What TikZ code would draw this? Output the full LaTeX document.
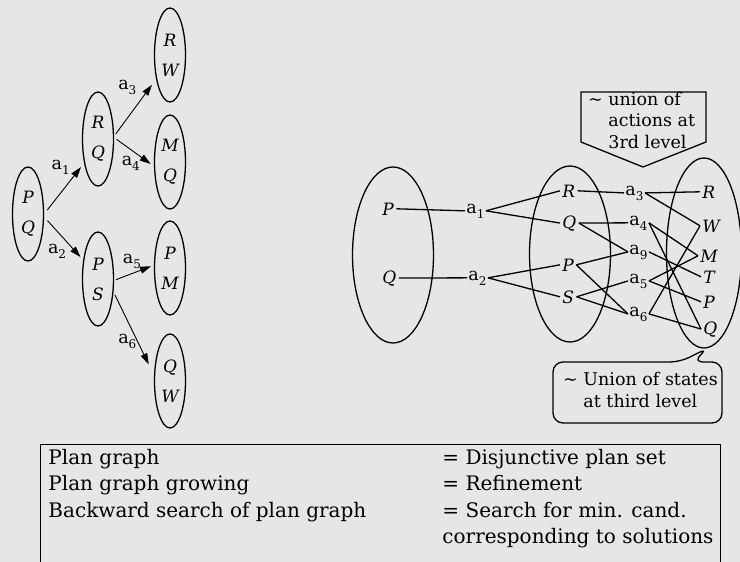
\documentclass[tikz,border=0pt]{standalone}
\usepackage{fontspec}
\setmainfont{DejaVu Serif}
\usetikzlibrary{arrows.meta,shapes.geometric,positioning}
\definecolor{paper}{RGB}{230,230,230}
\newcommand{\actn}[1]{a\raisebox{-5pt}{\fontsize{12}{12}\selectfont #1}}

\begin{document}
\begin{tikzpicture}[
    x = 1pt, y = -1pt, % pixel grid, y runs downwards
    > = {Triangle[length=11pt,width=7pt]}, % arrow head style
    line width = 0.9pt % line style
    ]

    \tikzset{
    stateset/.style = {draw, ellipse, line width=1.3pt, inner sep=0pt,
        minimum width=31pt, minimum height=94pt, align=center,
        font=\fontsize{17}{30}\selectfont\itshape},
    bigset/.style = {draw, ellipse, line width=1.3pt,
        minimum width=81pt, minimum height=176pt},
    fact/.style = {font=\fontsize{17}{20}\selectfont\itshape,
        inner sep=2pt, anchor=base west},
    act/.style = {font=\fontsize{17.5}{20}\selectfont,
        inner sep=1pt, anchor=base west},
    lbl/.style = {font=\fontsize{17.5}{20}\selectfont, inner sep=1pt},
    link/.style = {line width=1.3pt},
    note/.style = {align=left, inner sep=0pt, anchor=base west} % base = last line
    }

    \fill[paper] (0,0) rectangle (740,562);
    \clip (0,0) rectangle (740,562);

    % plan graph grown as a tree
    \node[stateset] (pq) at (28,214) {P\\Q};
    \node[stateset] (rq) at (98,139) {R\\Q};
    \node[stateset] (ps) at (98,279) {P\\S};
    \node[stateset] (rw) at (170,55) {R\\W};
    \node[stateset] (mq) at (170,162) {M\\Q};
    \node[stateset] (pm) at (170,268) {P\\M};
    \node[stateset] (qw) at (170,381) {Q\\W};

    \path[->] (pq.0) edge[shorten <=5pt, shorten >=5pt]
        node[lbl, pos=0.75, above left, xshift=-3pt] {\actn{1}} (rq.240);
    \path[->] (pq.-10) edge[shorten <=5pt, shorten >=4pt]
        node[lbl, pos=0.6, below left] {\actn{2}} (ps.128);
    \path[->] (rq.10) edge[shorten <=3pt, shorten >=7pt]
        node[lbl, pos=0.85, left=12pt] {\actn{3}} (rw.240);
    \path[->] (rq.5) edge[shorten <=3pt, shorten >=4pt]
        node[lbl, pos=0.42, below=5pt] {\actn{4}} (mq.195);
    \path[->] (ps.-5) edge[shorten <=2pt, shorten >=3pt]
        node[lbl, pos=0.45, above=3pt] {\actn{5}} (pm.170);
    \path[->] (ps.-40) edge[shorten <=3pt, shorten >=12pt]
        node[lbl, pos=0.6, left] {\actn{6}} (qw.160);

    % the same graph as levels of sets
    \node[bigset] (setL) at (393,255) {};
    \node[bigset] (setM) at (570,254) {};
    \node[bigset, minimum width=75pt, minimum height=190pt] (setR) at (704,253) {};

    \node[fact] (lP) at (380,215) {P};
    \node[fact] (lQ) at (380,283) {Q};

    \node[act] (a1) at (465,213) {\actn{1}};
    \node[act] (a2) at (467,280) {\actn{2}};

    \node[fact] (mR) at (560,197) {R};
    \node[fact] (mQ) at (560,228) {Q};
    \node[fact] (mP) at (560,271) {P};
    \node[fact] (mS) at (560,303) {S};

    \node[act] (a3) at (624,195) {\actn{3}};
    \node[act] (a4) at (628,225) {\actn{4}};
    \node[act] (a9) at (628,254) {\actn{9}};
    \node[act] (a5) at (628,283) {\actn{5}};
    \node[act] (a6) at (628,316) {\actn{6}};

    \node[fact] (rR) at (700,198) {R};
    \node[fact] (rW) at (700,232) {W};
    \node[fact] (rM) at (698,262) {M};
    \node[fact] (rT) at (701,283) {T};
    \node[fact] (rP) at (701,308) {P};
    \node[fact] (rQ) at (701,334) {Q};

    \draw[link] (lP.east) -- (a1.west);
    \draw[link] (lQ.east) -- (a2.west);
    \draw[link] (a1.east) -- (mR.west);
    \draw[link] (a1.east) -- (mQ.west);
    \draw[link] (a2.east) -- (mP.west);
    \draw[link] (a2.east) -- (mS.west);

    \draw[link] (mR.east) -- (a3.west);
    \draw[link] (mQ.east) -- (a4.west);
    \draw[link] (mQ.east) -- (a9.west);
    \draw[link] (mP.east) -- (a9.west);
    \draw[link] (mP.east) -- (a6.west);
    \draw[link] (mS.east) -- (a5.west);
    \draw[link] (mS.east) -- (a6.west);

    \draw[link] (a3.east) -- (rR.west);
    \draw[link] (a3.east) -- (rW.west);
    \draw[link] (a4.east) -- (rM.west);
    \draw[link] (a4.east) -- (rQ.west);
    \draw[link] (a9.east) -- (rT.west);
    \draw[link] (a5.east) -- (rM.west);
    \draw[link] (a5.east) -- (rP.west);
    \draw[link] (a6.east) -- (rW.west);
    \draw[link] (a6.east) -- (rQ.west);

    % callouts
    \draw[link] (581,92) -- (706,92) -- (706,142) -- (643,167) -- (581,142) -- cycle;
    \node[note, font=\fontsize{17.5}{21.5}\selectfont] (actnote) at (608,148)
        {\llap{\textasciitilde\ }union of\\actions at\\3rd level};

    \draw[link, rounded corners=10pt] (693,362) -- (722,362) -- (722,423)
        -- (553,423) -- (553,362) -- (680,362) -- (708,348) -- cycle;
    \node[note, font=\fontsize{17.5}{21.5}\selectfont] (statenote) at (583,407)
        {\llap{\textasciitilde\ }Union of states\\at third level};

    % legend
    \node[draw, line width=1.3pt, anchor=north west, minimum width=680pt,
        minimum height=140pt] (legend) at (40,444) {};
    \node[note, font=\fontsize{20}{26.5}\selectfont] (lhs) at (48,517)
        {Plan graph\\Plan graph growing\\Backward search of plan graph};
    \node[note, font=\fontsize{20}{26.5}\selectfont] (rhs) at (442,543.5)
        {= Disjunctive plan set\\= Refinement\\= Search for min. cand.\\corresponding to solutions};
\end{tikzpicture}
\end{document}
